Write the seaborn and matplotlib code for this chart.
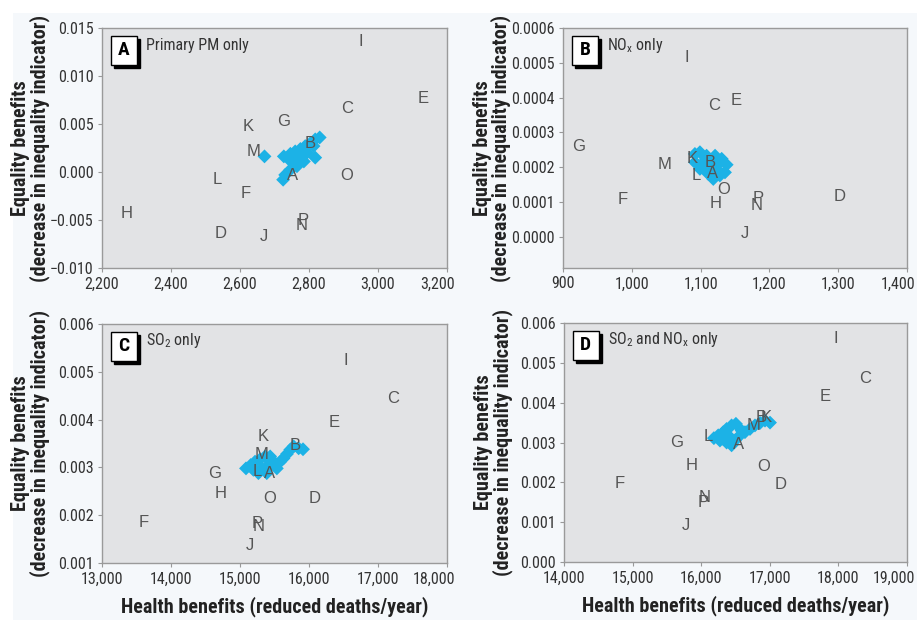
import numpy as np
import pandas as pd
import seaborn as sns
import matplotlib.pyplot as plt
from matplotlib.patches import Rectangle
from matplotlib.ticker import FuncFormatter, MultipleLocator
from matplotlib.transforms import ScaledTranslation

# scenario letters, same order in every panel
letters = list("ABCDEFGHIJKLMNOP")

# panel A: primary PM only
a_x = [2753, 2802, 2910, 2543, 3132, 2617, 2727, 2272, 2949, 2669, 2625, 2533, 2640, 2778, 2910, 2783]
a_y = [-0.00035, 0.0030, 0.0066, -0.0064, 0.0077, -0.0022, 0.0053, -0.0043, 0.0136, -0.0067,
       0.0047, -0.0008, 0.00215, -0.0056, -0.0004, -0.0050]
a_cx = [2671, 2727, 2746, 2760, 2775, 2789, 2804, 2818, 2831, 2813, 2794, 2818, 2775, 2756,
        2746, 2731, 2725, 2765, 2785, 2742]
a_cy = [0.00163, 0.00163, 0.0019, 0.00215, 0.0024, 0.0027, 0.0030, 0.0034, 0.0036, 0.0027,
        0.0020, 0.0015, 0.0015, 0.0009, 0.00024, -0.0003, -0.0008, 0.0006, 0.0011, 0.0013]

# panel B: NOx only
b_x = [1118, 1114.6, 1120, 1301.5, 1151, 987, 923, 1122, 1080.6, 1164.6, 1088, 1094, 1047.6, 1181.5, 1134, 1183]
b_y = [0.000183, 0.000214, 0.000377, 0.000116, 0.000391, 0.000106, 0.00026, 0.000096, 0.000514,
       0.0000079, 0.000226, 0.000176, 0.000207, 0.000091, 0.000137, 0.000109]
b_cx = [1091.7, 1099, 1108.7, 1121, 1130.6, 1137.9, 1135.4, 1128, 1118.4, 1111, 1099, 1091.7,
        1104, 1113.6, 1123, 1125.7, 1108.7, 1118.4]
b_cy = [0.000238, 0.000243, 0.000233, 0.000233, 0.000224, 0.000207, 0.000185, 0.000176, 0.000166,
        0.000181, 0.000195, 0.000214, 0.000214, 0.0002, 0.000205, 0.00019, 0.000224, 0.000219]

# panel C: SO2 only
c_x = [15427, 15801, 17223, 16078, 16359, 13607, 14626, 14718, 16529, 15146, 15330, 15243, 15306, 15267, 15427, 15252]
c_y = [0.00287, 0.00345, 0.00444, 0.00234, 0.00394, 0.00185, 0.00287, 0.00246, 0.00523, 0.00136,
       0.00365, 0.00292, 0.00328, 0.00177, 0.00236, 0.00182]
c_cx = [15087, 15155, 15218, 15291, 15364, 15437, 15194, 15316, 15413, 15510, 15583, 15631, 15680,
        15728, 15777, 15850, 15913, 15267, 15388, 15534]
c_cy = [0.00298, 0.00305, 0.00312, 0.00317, 0.00323, 0.00323, 0.00295, 0.00298, 0.00305, 0.00309,
        0.00312, 0.00319, 0.00328, 0.00337, 0.00344, 0.0034, 0.00338, 0.00288, 0.00288, 0.00298]

# panel D: SO2 and NOx only
d_x = [16541, 16882, 18391, 17160, 17807, 14813, 15641, 15860, 17968, 15772, 16945, 16103, 16760, 16054, 16916, 16030]
d_y = [0.00295, 0.00364, 0.00461, 0.00194, 0.00416, 0.00196, 0.00299, 0.00242, 0.00562, 0.00092,
       0.00364, 0.00316, 0.00343, 0.00161, 0.00240, 0.00149]
d_cx = [16186, 16249, 16322, 16371, 16444, 16507, 16274, 16371, 16444, 16493, 16566, 16639, 16712,
        16785, 16858, 16931, 17004, 16395, 16322, 16590]
d_cy = [0.00311, 0.00318, 0.00326, 0.00334, 0.00343, 0.00347, 0.00305, 0.003, 0.00293, 0.00305,
        0.00318, 0.00326, 0.00334, 0.00343, 0.00349, 0.00355, 0.0035, 0.00318, 0.00309, 0.0033]

sns.set_style("ticks")
plt.rcParams['font.family'] = ['Roboto Condensed', 'DejaVu Sans']
plt.rcParams['mathtext.fontset'] = 'custom'
plt.rcParams['mathtext.rm'] = 'Roboto Condensed'
plt.rcParams['axes.unicode_minus'] = True

BLUE = '#1cb2e6'
GRID_BG = '#e2e3e5'
LETTER = '#555555'

fig = plt.figure(figsize=(9.17, 6.2), dpi=100)
fig.patches.append(Rectangle((13 / 917, 0), 1, 1 - 13 / 620, transform=fig.transFigure,
                             facecolor='#f5f8fb', edgecolor='none', zorder=-10))

panels = [
    dict(pos=[0.1112, 0.5677, 0.3763, 0.3871], x=a_x, y=a_y, cx=a_cx, cy=a_cy,
         xlim=(2200, 3200), xstep=200, ylim=(-0.010, 0.015), ystep=0.005, ydec=3,
         tag='A', title='Primary PM only', xlabel=False),
    dict(pos=[0.6140, 0.5677, 0.3751, 0.3871], x=b_x, y=b_y, cx=b_cx, cy=b_cy,
         xlim=(900, 1400), xstep=100, ylim=(-0.00009, 0.0006), ystep=0.0001, ydec=4,
         tag='B', title=r'NO$_\mathrm{x}$ only', xlabel=False),
    dict(pos=[0.1112, 0.0919, 0.3763, 0.3855], x=c_x, y=c_y, cx=c_cx, cy=c_cy,
         xlim=(13000, 18000), xstep=1000, ylim=(0.001, 0.006), ystep=0.001, ydec=3,
         tag='C', title=r'SO$_\mathrm{2}$ only', xlabel=True),
    dict(pos=[0.6150, 0.0935, 0.3740, 0.3855], x=d_x, y=d_y, cx=d_cx, cy=d_cy,
         xlim=(14000, 19000), xstep=1000, ylim=(0.0, 0.006), ystep=0.001, ydec=3,
         tag='D', title=r'SO$_\mathrm{2}$ and NO$_\mathrm{x}$ only', xlabel=True),
]

for p in panels:
    ax = fig.add_axes(p['pos'])
    ax.set_facecolor(GRID_BG)
    cl = pd.DataFrame({'x': p['cx'], 'y': p['cy']})
    sns.scatterplot(data=cl, x='x', y='y', marker='D', s=50, color=BLUE,
                    edgecolor='none', ax=ax, zorder=2)
    for lt, xv, yv in zip(letters, p['x'], p['y']):
        ax.text(xv, yv, lt, ha='center', va='center', fontsize=12, color=LETTER,
                family=['Liberation Sans', 'DejaVu Sans'], zorder=3)

    ax.set_xlim(*p['xlim'])
    ax.set_ylim(*p['ylim'])
    ax.xaxis.set_major_locator(MultipleLocator(p['xstep']))
    ax.yaxis.set_major_locator(MultipleLocator(p['ystep']))
    ax.xaxis.set_major_formatter(FuncFormatter(lambda v, _: f'{v:,.0f}'))
    dec = p['ydec']
    ax.yaxis.set_major_formatter(
        FuncFormatter(lambda v, _, d=dec: f'{v:.{d}f}'.replace('-', '\u2212')
                      if abs(v) > 1e-12 else f'{0:.{d}f}'))
    ax.tick_params(length=3, width=0.8, color='#999999', labelsize=11.5,
                   labelcolor='#333333', pad=3)
    for s in ax.spines.values():
        s.set_color('#9a9a9a')
        s.set_linewidth(1.0)

    # last x tick label is pulled inside, as in the original
    ticks = [t for t in ax.xaxis.get_major_ticks()]
    xt = ax.get_xticks()
    last = [t for t, v in zip(ticks, xt) if abs(v - p['xlim'][1]) < 1e-9]
    for t in last:
        t.label1.set_horizontalalignment('right')
        t.label1.set_transform(t.label1.get_transform() +
                               ScaledTranslation(0.08, 0, fig.dpi_scale_trans))

    ax.set_ylabel('Equality benefits\n(decrease in inequality indicator)', fontsize=14.5,
                  fontweight='bold', color='#222222', linespacing=0.95)
    ax.yaxis.set_label_coords(-0.15, 0.5)
    if p['xlabel']:
        ax.set_xlabel('Health benefits (reduced deaths/year)', fontsize=14.5,
                      fontweight='bold', color='#222222')
        ax.xaxis.set_label_coords(0.5, -0.14)
    else:
        ax.set_xlabel('')

    # panel tag box with drop shadow
    x0, y0, w, h = 0.026, 0.846, 0.075, 0.121
    ax.add_patch(Rectangle((x0 + 0.009, y0 - 0.0125), w, h, transform=ax.transAxes,
                           facecolor='black', edgecolor='black', zorder=4))
    ax.add_patch(Rectangle((x0, y0), w, h, transform=ax.transAxes,
                           facecolor='white', edgecolor='black', linewidth=1.0, zorder=5))
    ax.text(x0 + w / 2, y0 + h / 2, p['tag'], transform=ax.transAxes, ha='center',
            va='center', fontsize=14, fontweight='bold', color='black', zorder=6)
    ax.text(0.128, 0.929, p['title'], transform=ax.transAxes, ha='left', va='center',
            fontsize=11.5, color='#333333', zorder=6)

fig.savefig('out.png', dpi=100)
